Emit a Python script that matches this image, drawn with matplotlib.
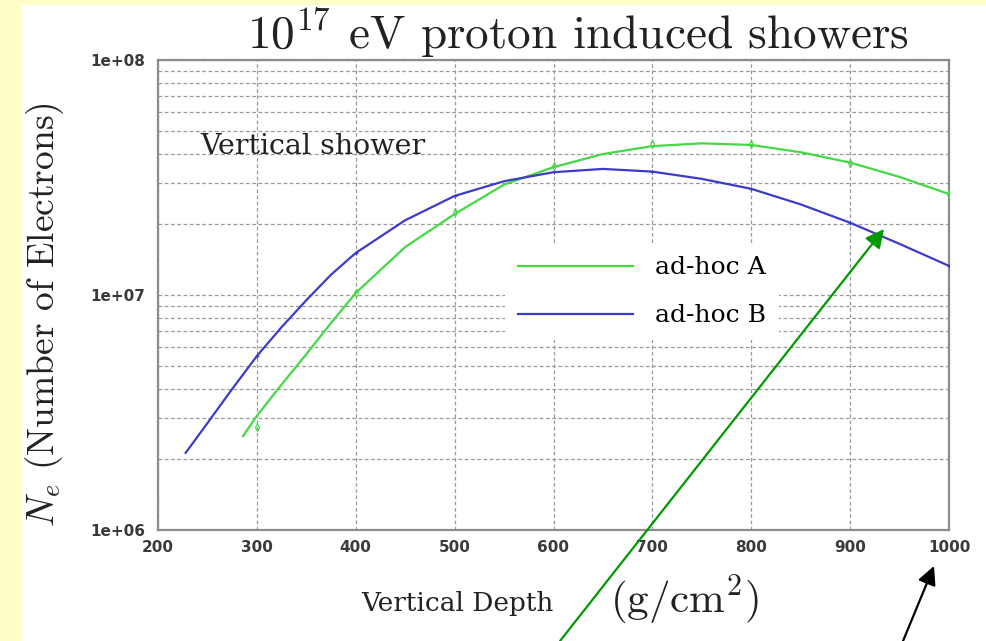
import matplotlib
matplotlib.use("Agg")
import matplotlib.pyplot as plt
from matplotlib.patches import Rectangle
from matplotlib.ticker import LogLocator, FixedLocator, NullFormatter

plt.rcParams['mathtext.fontset'] = 'cm'

# ---- data ----
green_x = [286, 300, 325, 350, 375, 400, 450, 500, 550, 600, 650, 700, 750, 800, 850, 900, 950, 1000]
green_y = [2.51e6, 3.06e6, 4.16e6, 5.6e6, 7.6e6, 1.02e7, 1.6e7, 2.21e7, 2.95e7, 3.5e7, 3.98e7,
           4.3e7, 4.42e7, 4.35e7, 4.05e7, 3.66e7, 3.18e7, 2.69e7]
green_mx = [300, 400, 500, 600, 700, 800, 900, 1000]
green_my = [2.75e6, 1.02e7, 2.25e7, 3.55e7, 4.4e7, 4.4e7, 3.66e7, 2.69e7]

blue_x = [228, 250, 275, 300, 325, 350, 375, 400, 450, 500, 550, 600, 650, 700, 750, 800, 850,
          900, 950, 1000]
blue_y = [2.13e6, 2.85e6, 3.98e6, 5.5e6, 7.3e6, 9.5e6, 1.22e7, 1.51e7, 2.08e7, 2.64e7, 3.05e7,
          3.33e7, 3.44e7, 3.35e7, 3.12e7, 2.83e7, 2.43e7, 2.03e7, 1.65e7, 1.33e7]
blue_mx = [300, 400, 500, 600, 700, 800, 900, 1000]
blue_my = [5.5e6, 1.51e7, 2.64e7, 3.33e7, 3.35e7, 2.83e7, 2.03e7, 1.33e7]

labels = ["ad-hoc A", "ad-hoc B"]
x_ticks = [200, 300, 400, 500, 600, 700, 800, 900, 1000]
y_ticks = [1e6, 1e7, 1e8]
y_ticklabels = ["1e+06", "1e+07", "1e+08"]

GREEN = "#45d845"
BLUE = "#3c3cc8"
GRID = "#9a9a9a"

W, H = 987, 641
fig = plt.figure(figsize=(W / 100, H / 100), dpi=100)
fig.patch.set_facecolor("white")

# yellow page border
fig.add_artist(Rectangle((0, 0), 21 / W, 1, transform=fig.transFigure,
                         facecolor="#fffdc8", edgecolor="none", zorder=0))
fig.add_artist(Rectangle((0, 1 - 5 / H), 1, 5 / H, transform=fig.transFigure,
                         facecolor="#fffdc8", edgecolor="none", zorder=0))

ax = fig.add_axes([158 / W, 1 - 530 / H, (949 - 158) / W, (530 - 60) / H])
ax.set_yscale("log")
ax.set_xlim(200, 1000)
ax.set_ylim(1e6, 1e8)

ax.plot(green_x, green_y, color=GREEN, lw=1.6, label=labels[0], zorder=3)
ax.plot(blue_x, blue_y, color=BLUE, lw=1.6, label=labels[1], zorder=3)
ax.plot(green_mx, green_my, ls="none", marker="d", ms=4, mfc="none", mec=GREEN, mew=0.8, zorder=3)
ax.plot(blue_mx, blue_my, ls="none", marker="+", ms=3, mec=BLUE, mew=0.8, zorder=3)

ax.xaxis.set_major_locator(FixedLocator(x_ticks))
ax.set_xticklabels([str(v) for v in x_ticks])
ax.yaxis.set_major_locator(FixedLocator(y_ticks))
ax.set_yticklabels(y_ticklabels)
ax.yaxis.set_minor_locator(LogLocator(base=10, subs=range(2, 10)))
ax.yaxis.set_minor_formatter(NullFormatter())

ax.grid(True, which="major", axis="both", color=GRID, ls=(0, (3, 2)), lw=0.9)
ax.grid(True, which="minor", axis="y", color=GRID, ls=(0, (3, 2)), lw=0.9)
ax.set_axisbelow(True)
ax.tick_params(which="both", length=0)
ax.tick_params(axis="both", labelsize=11, labelcolor="#3a3a3a")
ax.tick_params(axis="x", pad=7)
ax.tick_params(axis="y", pad=9)
for lab in ax.get_xticklabels() + ax.get_yticklabels():
    lab.set_fontweight("bold")
for sp in ax.spines.values():
    sp.set_color("#8c8c8c")
    sp.set_linewidth(1.6)

leg = ax.legend(loc="upper left", bbox_to_anchor=(505 / W, 1 - 244 / H),
                bbox_transform=fig.transFigure, frameon=True, fancybox=False,
                facecolor="white", edgecolor="none", framealpha=1,
                prop={"family": "DejaVu Serif", "size": 18},
                handlelength=4.6, handletextpad=0.9, labelspacing=1.0, borderpad=0.5,
                borderaxespad=0)
leg.set_zorder(4)

fig.text(200 / W, 1 - 147 / H, "Vertical shower", family="DejaVu Serif", fontsize=20.5,
         va="center", ha="left", color="#222222")

fig.text(578 / W, 1 - 33 / H, r"$10^{17}$ eV proton induced showers", family="cmr10",
         fontsize=34, ha="center", va="center", color="#222222")
fig.text(45 / W, 1 - 315 / H, r"$N_e$ (Number of Electrons)", family="cmr10",
         fontsize=27, rotation=90, ha="center", va="center", color="#222222")
fig.text(457 / W, 1 - 603 / H, "Vertical Depth", family="DejaVu Serif", fontsize=19,
         ha="center", va="center", color="#222222")
fig.text(684 / W, 1 - 600 / H, r"(g/cm$^2$)", family="cmr10", fontsize=31,
         ha="center", va="center", color="#222222")

# arrows
ax.annotate("", xy=(884, H - 229), xytext=(560, 0), xycoords="figure pixels",
            textcoords="figure pixels", annotation_clip=False,
            arrowprops=dict(arrowstyle="-|>", color="#009a00", lw=1.6, mutation_scale=28,
                            shrinkA=0, shrinkB=0))
ax.annotate("", xy=(934, H - 566), xytext=(903, 0), xycoords="figure pixels",
            textcoords="figure pixels", annotation_clip=False,
            arrowprops=dict(arrowstyle="-|>", color="black", lw=1.6, mutation_scale=28,
                            shrinkA=0, shrinkB=0))

fig.savefig("out.png", dpi=100)
